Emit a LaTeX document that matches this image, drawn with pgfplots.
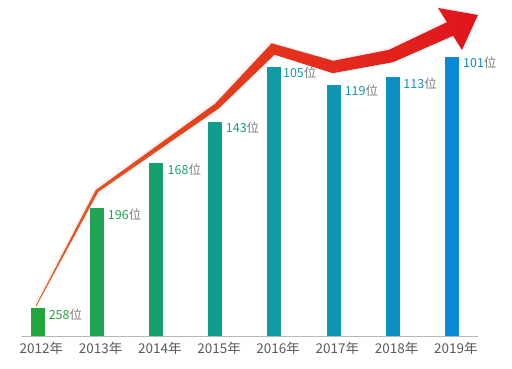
\documentclass[border=0pt]{standalone}
\usepackage{pgfplots}
\pgfplotsset{compat=1.18}
\usepackage{fontspec}
\setmainfont{Noto Sans CJK SC}
\definecolor{c0}{HTML}{22A63C}
\definecolor{c1}{HTML}{1EA452}
\definecolor{c2}{HTML}{16A06E}
\definecolor{c3}{HTML}{109E8C}
\definecolor{c4}{HTML}{109AA4}
\definecolor{c5}{HTML}{0E96B4}
\definecolor{c6}{HTML}{0C90C4}
\definecolor{c7}{HTML}{0A88D6}
\definecolor{labgray}{HTML}{7A7A7A}
\definecolor{yeargray}{HTML}{5A5A5A}
\definecolor{arrowA}{HTML}{EA5A1E}
\definecolor{arrowB}{HTML}{E0141C}
\pgfplotsset{
  barstyle/.style n args={2}{ybar, bar width=14pt, bar shift=0pt, draw=none, fill=#1,
    point meta=explicit symbolic,
    nodes near coords={\textcolor{#1}{\pgfplotspointmeta}\textcolor{labgray}{位}},
    every node near coord/.append style={anchor=base west, inner sep=0pt, xshift=#2, yshift=-11pt,
      font=\fontsize{12.5}{13}\selectfont}},
}
\begin{document}
\begin{tikzpicture}
% arrow, in pixel coordinates
\begin{axis}[at={(0,0)}, anchor=south west, width=512pt, height=369pt, scale only axis,
  xmin=0, xmax=512, ymin=0, ymax=369, y dir=reverse, hide axis, clip=false]
\path (rel axis cs:0,0) rectangle (rel axis cs:1,1);
\addplot[draw=none, fill=black!12, opacity=0.45] coordinates {
 (34.3,303.8) (94.6,188.0) (213.8,101.7) (270.3,41.3) (332.1,58.8) (387.8,47.8) (445.7,20.2)
 (436.8,6.0) (476.8,13.0) (460.8,48.0)
 (451.9,33.8) (391.8,60.2) (331.5,71.2) (273.3,52.7) (217.8,106.3) (96.9,190.0) (35.2,304.2)
};
\addplot[draw=none, left color=arrowA, right color=arrowB] coordinates {
 (35.6,305.8) (95.8,190.0) (215.1,103.7) (271.6,43.3) (333.3,60.8) (389.0,49.8) (446.9,22.2)
 (438,8) (478,15) (462,50)
 (453.1,35.8) (393.0,62.2) (332.7,73.2) (274.5,54.7) (219.0,108.3) (98.2,192.0) (36.4,306.2)
};
\end{axis}
% bars
\begin{axis}[at={(0,0)}, anchor=south west, width=512pt, height=369pt, scale only axis,
  xmin=-0.635, xmax=8.014, ymin=-33, ymax=336, hide axis, clip=false]
\addplot[draw=black!28, line width=0.8pt] coordinates {(-0.264,0) (7.44,0)};
\addplot[barstyle={c0}{11pt}] coordinates {(0,27.7) [258]};
\addplot[barstyle={c1}{11pt}] coordinates {(1,127.7) [196]};
\addplot[barstyle={c2}{11.5pt}] coordinates {(2,172.7) [168]};
\addplot[barstyle={c3}{10.5pt}] coordinates {(3,214.3) [143]};
\addplot[barstyle={c4}{8.5pt}] coordinates {(4,269) [105]};
\addplot[barstyle={c5}{11pt}] coordinates {(5,251) [119]};
\addplot[barstyle={c6}{10.5pt}] coordinates {(6,258.7) [113]};
\addplot[barstyle={c7}{11pt}] coordinates {(7,279.3) [101]};
\begin{scope}[every node/.style={anchor=base, text=yeargray, inner sep=0pt, font=\fontsize{13.5}{14}\selectfont}]
\node at (axis cs:0.065,-17.3) {2012年};
\node at (axis cs:1.065,-17.3) {2013年};
\node at (axis cs:2.065,-17.3) {2014年};
\node at (axis cs:3.065,-17.3) {2015年};
\node at (axis cs:4.065,-17.3) {2016年};
\node at (axis cs:5.065,-17.3) {2017年};
\node at (axis cs:6.065,-17.3) {2018年};
\node at (axis cs:7.065,-17.3) {2019年};
\end{scope}
\end{axis}
\end{tikzpicture}
\end{document}
